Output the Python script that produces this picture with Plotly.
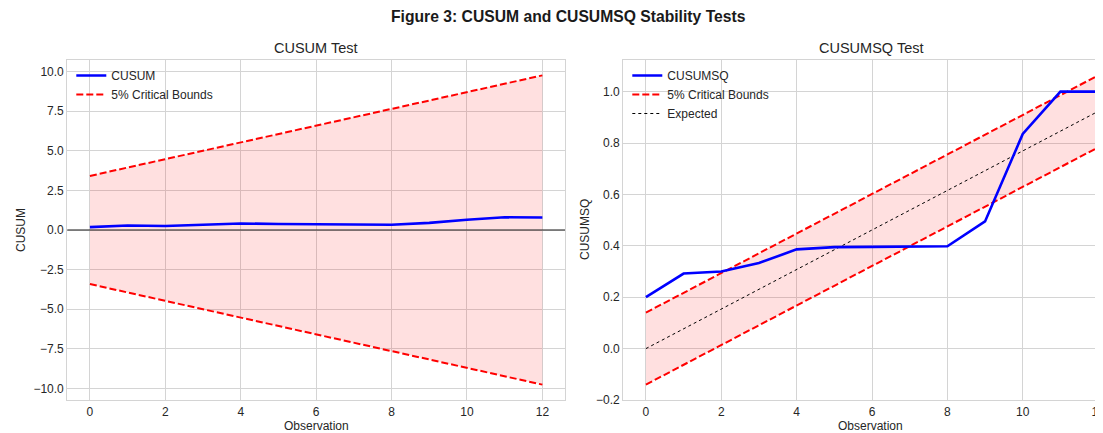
import plotly.graph_objects as go

# ---------------- data ----------------
obs = [0, 1, 2, 3, 4, 5, 6, 7, 8, 9, 10, 11, 12]

cusum = [0.18, 0.28, 0.25, 0.32, 0.41, 0.38, 0.36, 0.34, 0.33, 0.45, 0.65, 0.80, 0.79]
cusum_upper = [3.41, 3.94, 4.47, 5.00, 5.53, 6.05, 6.58, 7.11, 7.64, 8.17, 8.70, 9.22, 9.75]
cusum_lower = [-3.41, -3.94, -4.47, -5.00, -5.53, -6.05, -6.58, -7.11, -7.64, -8.17, -8.70, -9.22, -9.75]

cusumsq = [0.20, 0.292, 0.30, 0.333, 0.386, 0.395, 0.396, 0.397, 0.398, 0.495, 0.835, 1.0, 1.0]
expected = [0.0, 0.077, 0.154, 0.231, 0.308, 0.385, 0.462, 0.538, 0.615, 0.692, 0.769, 0.846, 0.923]
sq_upper = [0.14, 0.217, 0.294, 0.371, 0.448, 0.525, 0.602, 0.678, 0.755, 0.832, 0.909, 0.986, 1.063]
sq_lower = [-0.14, -0.063, 0.014, 0.091, 0.168, 0.245, 0.322, 0.398, 0.475, 0.552, 0.629, 0.706, 0.783]

x_tickvals = [0, 2, 4, 6, 8, 10, 12]
x_ticktext = ["0", "2", "4", "6", "8", "10", "12"]
y1_tickvals = [-10.0, -7.5, -5.0, -2.5, 0.0, 2.5, 5.0, 7.5, 10.0]
y1_ticktext = ["\u221210.0", "\u22127.5", "\u22125.0", "\u22122.5", "0.0", "2.5", "5.0", "7.5", "10.0"]
y2_tickvals = [-0.2, 0.0, 0.2, 0.4, 0.6, 0.8, 1.0]
y2_ticktext = ["\u22120.2", "0.0", "0.2", "0.4", "0.6", "0.8", "1.0"]

# ---------------- figure ----------------
OFF = 8                      # page body margin of the html
W, H = 1103 - OFF, 433 - OFF  # figure size
FONT = "Liberation Sans, Arial, sans-serif"
TXT = "#262626"
GRID = "#d4d4d4"
FILL = "rgba(255,0,0,0.12)"
DASH = dict(color="red", width=2, dash="7px,3px")


def px(xp):
    return (xp - OFF) / W


def py(yp):
    return (H - (yp - OFF)) / H


fig = go.Figure()

# --- left: CUSUM ---
fig.add_trace(go.Scatter(x=obs, y=cusum_upper, mode="lines", line=dict(width=0),
                         showlegend=False, hoverinfo="skip", xaxis="x", yaxis="y"))
fig.add_trace(go.Scatter(x=obs, y=cusum_lower, mode="lines", line=dict(width=0),
                         fill="tonexty", fillcolor=FILL,
                         showlegend=False, hoverinfo="skip", xaxis="x", yaxis="y"))
fig.add_trace(go.Scatter(x=obs, y=cusum, mode="lines", name="CUSUM",
                         line=dict(color="blue", width=2.6),
                         xaxis="x", yaxis="y", legend="legend"))
fig.add_trace(go.Scatter(x=obs, y=cusum_upper, mode="lines", name="5% Critical Bounds",
                         line=DASH, xaxis="x", yaxis="y", legend="legend"))
fig.add_trace(go.Scatter(x=obs, y=cusum_lower, mode="lines", name="5% Critical Bounds",
                         line=DASH, showlegend=False, xaxis="x", yaxis="y"))

# --- right: CUSUMSQ ---
fig.add_trace(go.Scatter(x=obs, y=sq_upper, mode="lines", line=dict(width=0),
                         showlegend=False, hoverinfo="skip", xaxis="x2", yaxis="y2"))
fig.add_trace(go.Scatter(x=obs, y=sq_lower, mode="lines", line=dict(width=0),
                         fill="tonexty", fillcolor=FILL,
                         showlegend=False, hoverinfo="skip", xaxis="x2", yaxis="y2"))
fig.add_trace(go.Scatter(x=obs, y=expected, mode="lines", name="Expected",
                         line=dict(color="black", width=1, dash="dot"), legendrank=3,
                         xaxis="x2", yaxis="y2", legend="legend2"))
fig.add_trace(go.Scatter(x=obs, y=sq_upper, mode="lines", name="5% Critical Bounds",
                         line=DASH, legendrank=2, xaxis="x2", yaxis="y2", legend="legend2"))
fig.add_trace(go.Scatter(x=obs, y=sq_lower, mode="lines", name="5% Critical Bounds",
                         line=DASH, showlegend=False, xaxis="x2", yaxis="y2"))
fig.add_trace(go.Scatter(x=obs, y=cusumsq, mode="lines", name="CUSUMSQ",
                         line=dict(color="blue", width=2.6), legendrank=1,
                         xaxis="x2", yaxis="y2", legend="legend2"))

# axes frames in page pixels
L1, R1 = 67.3, 565.0
L2 = 623.3
TOP, BOT = 60.0, 400.0
ydom = [py(BOT), py(TOP)]

axis_common = dict(showgrid=True, gridcolor=GRID, gridwidth=1,
                   showline=True, linecolor=GRID, linewidth=1.2, mirror=True,
                   ticks="", tickfont=dict(family=FONT, size=12, color=TXT),
                   zeroline=False, fixedrange=True, automargin=False)

legend_common = dict(xanchor="left", yanchor="top", traceorder="normal",
                     bgcolor="rgba(255,255,255,0)", font=dict(family=FONT, size=12, color=TXT),
                     tracegroupgap=0, itemwidth=30)

fig.update_layout(
    width=W, height=H,
    margin=dict(l=0, r=0, t=0, b=0, autoexpand=False),
    paper_bgcolor="white", plot_bgcolor="white",
    font=dict(family=FONT, color=TXT),
    xaxis=dict(domain=[px(L1), px(R1)], range=[-0.6, 12.6], anchor="y",
               tickvals=x_tickvals, ticktext=x_ticktext, **axis_common),
    yaxis=dict(domain=ydom, range=[-10.72, 10.72], anchor="x",
               tickvals=y1_tickvals, ticktext=y1_ticktext, **axis_common),
    xaxis2=dict(domain=[px(L2), 1.0], range=[-0.6, 12.13], anchor="y2",
                tickvals=x_tickvals, ticktext=x_ticktext, ticklabeloverflow="allow",
                **axis_common),
    yaxis2=dict(domain=ydom, range=[-0.2, 1.123], anchor="x2",
                tickvals=y2_tickvals, ticktext=y2_ticktext, **axis_common),
    legend=dict(x=px(L1 + 4), y=py(TOP + 1), **legend_common),
    legend2=dict(x=px(L2 + 4), y=py(TOP + 1), **legend_common),
    shapes=[dict(type="line", xref="x domain", yref="y", x0=0, x1=1, y0=0, y1=0,
                 line=dict(color="rgba(60,60,60,0.8)", width=1.5), layer="above")],
    annotations=[
        dict(text="<b>Figure 3: CUSUM and CUSUMSQ Stability Tests</b>", xref="paper", yref="paper",
             x=px(568), y=py(17), xanchor="center", yanchor="middle", showarrow=False,
             font=dict(family=FONT, size=15.7, color="#1a1a1a")),
        dict(text="CUSUM Test", xref="paper", yref="paper",
             x=px((L1 + R1) / 2), y=py(48), xanchor="center", yanchor="middle", showarrow=False,
             font=dict(family=FONT, size=14.5, color=TXT)),
        dict(text="CUSUMSQ Test", xref="paper", yref="paper",
             x=px(871), y=py(48), xanchor="center", yanchor="middle", showarrow=False,
             font=dict(family=FONT, size=14.5, color=TXT)),
        dict(text="Observation", xref="paper", yref="paper",
             x=px((L1 + R1) / 2), y=py(426), xanchor="center", yanchor="middle", showarrow=False,
             font=dict(family=FONT, size=12, color=TXT)),
        dict(text="Observation", xref="paper", yref="paper",
             x=px(871), y=py(426), xanchor="center", yanchor="middle", showarrow=False,
             font=dict(family=FONT, size=12, color=TXT)),
        dict(text="CUSUM", xref="paper", yref="paper", textangle=-90,
             x=px(21), y=py(230), xanchor="center", yanchor="middle", showarrow=False,
             font=dict(family=FONT, size=12, color=TXT)),
        dict(text="CUSUMSQ", xref="paper", yref="paper", textangle=-90,
             x=px(585), y=py(230), xanchor="center", yanchor="middle", showarrow=False,
             font=dict(family=FONT, size=12, color=TXT)),
    ],
)

fig.write_html("out.html")
